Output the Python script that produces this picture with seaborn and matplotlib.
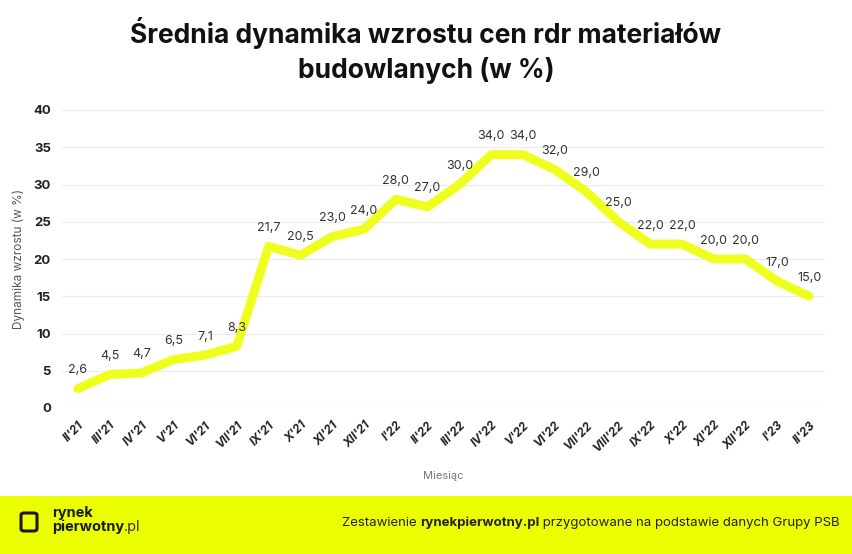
import pandas as pd
import numpy as np
import matplotlib.pyplot as plt
import matplotlib.patches as mpatches
import seaborn as sns

# months (no VIII'21 in the source data)
months = ["II'21", "III'21", "IV'21", "V'21", "VI'21", "VII'21", "IX'21", "X'21", "XI'21", "XII'21",
          "I'22", "II'22", "III'22", "IV'22", "V'22", "VI'22", "VII'22", "VIII'22", "IX'22", "X'22",
          "XI'22", "XII'22", "I'23", "II'23"]
values = [2.6, 4.5, 4.7, 6.5, 7.1, 8.3, 21.7, 20.5, 23.0, 24.0,
          28.0, 27.0, 30.0, 34.0, 34.0, 32.0, 29.0, 25.0, 22.0, 22.0,
          20.0, 20.0, 17.0, 15.0]
yticks = [0, 5, 10, 15, 20, 25, 30, 35, 40]

df = pd.DataFrame({"Miesiac": months, "Dynamika": values})
df["pos"] = range(len(df))

sns.set_style("whitegrid")
plt.rcParams['font.family'] = ['Inter', 'DejaVu Sans']

fig = plt.figure(figsize=(8.52, 5.54), dpi=100)
ax = fig.add_axes([62/852, 146/554, (825-62)/852, (444-146)/554])

sns.lineplot(data=df, x="pos", y="Dynamika", color="#EEFF1F", linewidth=6.5,
             solid_capstyle="round", solid_joinstyle="round", ax=ax)

for i, v in zip(df["pos"], df["Dynamika"]):
    ax.annotate(f"{v:.1f}".replace(".", ","), (i, v), xytext=(0, 9), textcoords="offset points",
                ha="center", va="bottom", fontsize=9, color="#333333")

ax.set_xlim(-0.5, len(months) - 0.5)
ax.set_ylim(0, 40)
ax.set_yticks(yticks)
ax.set_yticklabels([str(t) for t in yticks], fontweight="bold", fontsize=9.5, color="#222222")
ax.set_xticks(df["pos"])
ax.set_xticklabels(months, rotation=45, ha="right", rotation_mode="anchor",
                   fontweight="bold", style="italic", fontsize=8.5, color="#222222")
ax.tick_params(axis="both", length=0, pad=8)
ax.grid(axis="x", visible=False)
ax.grid(axis="y", color="#EBEBEB", linewidth=0.8)
for s in ax.spines.values():
    s.set_visible(False)
ax.set_xlabel("Miesiąc", fontsize=8, color="#777777", labelpad=12)
ax.set_ylabel("Dynamika wzrostu (w %)", fontsize=8.5, color="#555555", labelpad=6)

fig.text(0.5, 1 - 33/554, "Średnia dynamika wzrostu cen rdr materiałów", ha="center", va="center",
         fontsize=19, fontweight="bold", color="#111111")
fig.text(0.5, 1 - 71/554, "budowlanych (w %)", ha="center", va="center",
         fontsize=19, fontweight="bold", color="#111111")

# footer band
fig.patches.append(mpatches.Rectangle((0, 0), 1, 58/554, transform=fig.transFigure,
                                      facecolor="#EBFF00", edgecolor="none", zorder=0))
fig.patches.append(mpatches.FancyBboxPatch((21/852, 1 - 531/554), 16/852, 18/554,
                                           boxstyle="round,pad=0,rounding_size=0.004",
                                           transform=fig.transFigure, facecolor="none",
                                           edgecolor="#1A1A1A", linewidth=2.2))
fig.text(52/852, 1 - 513/554, "rynek", fontsize=10.5, fontweight="bold", color="#1A1A1A", va="center")
pw = fig.text(52/852, 1 - 527/554, "pierwotny", fontsize=10.5, fontweight="bold", color="#1A1A1A",
              va="center")

# footer note, pieces placed one after the other (right aligned as a whole)
parts = [("Zestawienie ", "normal"), ("rynekpierwotny.pl", "bold"),
         (" przygotowane na podstawie danych Grupy PSB", "normal")]
fig.canvas.draw()
r = fig.canvas.get_renderer()
bb = pw.get_window_extent(r)
fig.text(bb.x1 / 852, 1 - 527/554, ".pl", fontsize=10.5, color="#333333", va="center")

texts = [fig.text(0, 1 - 523/554, s, fontsize=9.5, fontweight=w, color="#222222", va="center")
         for s, w in parts]
fig.canvas.draw()
widths = [t.get_window_extent(r).width for t in texts]
x = 840 - sum(widths)
for t, w in zip(texts, widths):
    t.set_x(x / 852)
    x += w

fig.savefig("out.png", dpi=100)
